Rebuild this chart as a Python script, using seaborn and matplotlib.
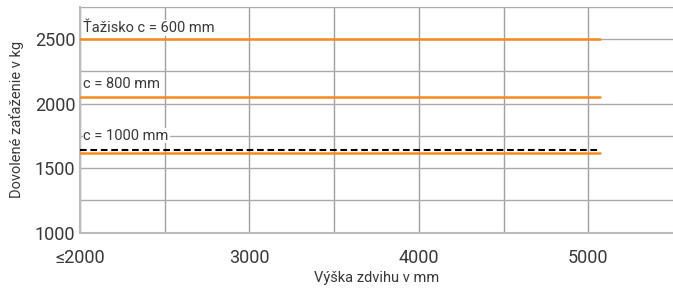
import pandas as pd
import matplotlib
matplotlib.use("Agg")
import matplotlib.pyplot as plt
import seaborn as sns

# lift height (mm) and permitted load (kg) per load centre
heights = [2000, 5070]
load_c600 = [2500, 2500]
load_c800 = [2050, 2050]
load_c1000 = [1620, 1620]
load_c1000_alt = [1640, 1640]

labels = ["Ťažisko c = 600 mm", "c = 800 mm", "c = 1000 mm"]
label_pos = [2585, 2150, 1753]

xticks = [2000, 3000, 4000, 5000]
xticklabels = ["≤2000", "3000", "4000", "5000"]
yticks = [1000, 1500, 2000, 2500]

df = pd.DataFrame({
    "height": heights * 3,
    "load": load_c600 + load_c800 + load_c1000,
    "series": ["c600"] * 2 + ["c800"] * 2 + ["c1000"] * 2,
})
df_dash = pd.DataFrame({"height": heights, "load": load_c1000_alt})

sns.set_style("white")
plt.rcParams["font.family"] = ["Roboto", "DejaVu Sans"]
text_color = "#383838"
orange = "#f58a1f"

fig = plt.figure(figsize=(6.73, 2.89), dpi=100)
ax = fig.add_axes([0.119, 0.195, 0.881, 0.781])

ax.set_xlim(2000, 5500)
ax.set_ylim(1000, 2750)
ax.set_xticks(xticks)
ax.set_xticklabels(xticklabels)
ax.set_xticks([2500, 3500, 4500], minor=True)
ax.set_yticks(yticks)
ax.set_yticks([1250, 1750, 2250, 2750], minor=True)
ax.grid(True, axis="x", which="both", color="#a0a0a0", linewidth=1.0, zorder=0)
ax.grid(True, axis="y", which="both", color="#aaaaaa", linewidth=1.0, zorder=0)
ax.set_axisbelow(True)

sns.lineplot(data=df, x="height", y="load", units="series", estimator=None,
             color=orange, linewidth=1.8, ax=ax, zorder=3)
sns.lineplot(data=df_dash, x="height", y="load", color="black",
             linewidth=1.5, ax=ax, zorder=4)
ax.lines[-1].set_dashes((3.2, 1.8))

for txt, y in zip(labels, label_pos):
    ax.text(2020, y, txt, ha="left", va="center", fontsize=10.5, color=text_color,
            bbox=dict(facecolor="white", edgecolor="none", pad=0.5), zorder=5)

for side in ["top", "right"]:
    ax.spines[side].set_visible(False)
for side in ["left", "bottom"]:
    ax.spines[side].set_color("#bbbbbb")
    ax.spines[side].set_linewidth(1.5)
    ax.spines[side].set_zorder(2)

ax.tick_params(axis="both", which="both", length=0, labelsize=13,
               labelcolor=text_color)
ax.tick_params(axis="x", pad=11.5)
ax.tick_params(axis="y", pad=3.5)
ax.set_xlabel("Výška zdvihu v mm", fontsize=10.5, color=text_color, labelpad=3)
ax.set_ylabel("Dovolené zaťaženie v kg", fontsize=10.5, color=text_color, labelpad=8)

fig.savefig("out.png", dpi=100)
